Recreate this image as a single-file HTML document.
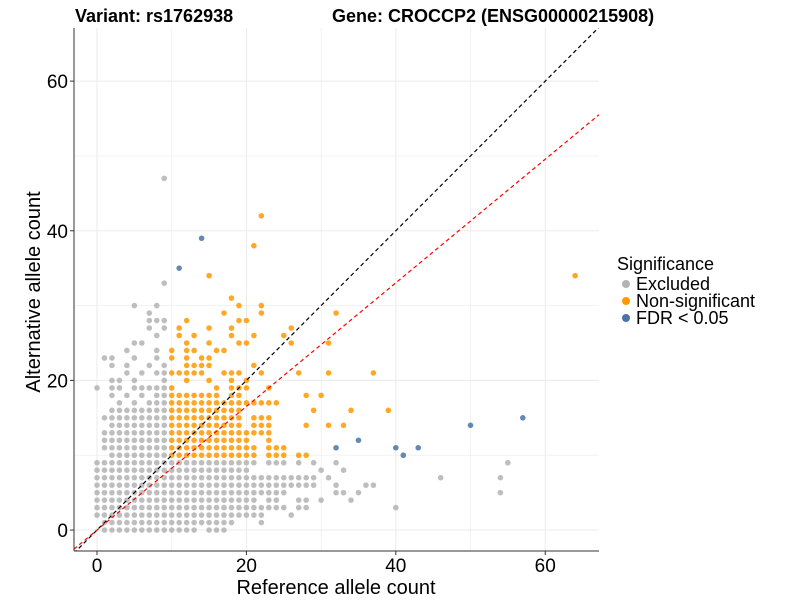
<!DOCTYPE html>
<html><head><meta charset="utf-8">
<style>
body{margin:0;background:#fff;}
svg{font-family:"Liberation Sans",Arial,sans-serif;}
</style></head>
<body>
<svg id="chart" width="800" height="600">
  <text x="75" y="22" font-size="18" font-weight="bold">Variant: rs1762938</text>
  <text x="332" y="22" font-size="18" font-weight="bold">Gene: CROCCP2 (ENSG00000215908)</text>
  <g id="grid"></g>
  <g id="refs"></g>
  <g id="pts"></g>
  <g id="axes"></g>
  <text x="336" y="594" text-anchor="middle" font-size="20">Reference allele count</text>
  <text transform="translate(40,292) rotate(-90)" text-anchor="middle" font-size="20">Alternative allele count</text>
  <g>
    <text x="617" y="270" font-size="18">Significance</text>
    <g><circle cx="626" cy="284" r="4" fill="#b3b3b3"/><text x="636" y="290" font-size="18">Excluded</text></g>
    <g><circle cx="626" cy="301" r="4" fill="#ff9900"/><text x="636" y="307" font-size="18">Non-significant</text></g>
    <g><circle cx="626" cy="318" r="4" fill="#4a74a8"/><text x="636" y="324" font-size="18">FDR &lt; 0.05</text></g>
  </g>
</svg>
<script>
const xTicks=[0,20,40,60];
const yTicks=[0,20,40,60];
const excludedRows=[[0,"1-13,15-17"],[1,"1-18,22"],[2,"0-22,26"],[3,"0-25,27,28,40"],[4,"0-21,23,24,27,28,30,34"],[5,"0-25,32,33,35,54"],[6,"0-29,32,36,37"],[7,"0-29,31,46,54"],[8,"0-20,30,33"],[9,"0-21,23-25,27,29,32,55"],[10,"2-9"],[11,"1-9"],[12,"1-9"],[13,"1-9"],[14,"2-9"],[15,"1-9"],[16,"2-9"],[17,"3,5,7,8,9"],[18,"2,4,6,8,9"],[19,"0,2,3,5-9"],[20,"2,3,5,9"],[21,"4,6,8,9"],[22,"2,4,7,9"],[23,"1,2,5,8"],[24,"4,8"],[25,"5,6"],[26,"8"],[27,"7,9"],[28,"7,8,9"],[29,"7"],[30,"5,8"],[33,"9"],[47,"9"]];
const nonsigRows=[[10,"10-21,23-25,27,28"],[11,"10-21,23-25"],[12,"10-20,23"],[13,"10-23"],[14,"10-19,21-23,28,31,33"],[15,"10-19,21-23"],[16,"10-19,29,34,39"],[17,"10-24"],[18,"10-16,18,19,28,30"],[19,"10,16,18-20,23"],[20,"12,15,18,20"],[21,"10-14,17,18,19,22,27,31,37"],[22,"12-15,21"],[23,"10,12,14,15"],[24,"10,12,13,16,17"],[25,"12,15,19,20,26,31"],[26,"11,13,18,21,25"],[27,"11,15,18,26"],[28,"12,19,20"],[29,"17,22,32"],[30,"19,22"],[31,"18"],[34,"15,64"],[38,"21"],[42,"22"]];
const fdrX=[14,11,32,35,40,41,43,50,57];
const fdrY=[39,35,11,12,11,10,11,14,15];

const X0=-3.08,X1=67.2,Y0=-2.8,Y1=67.1,L=74,R=599,T=28,B=551;
const sx=v=>L+(v-X0)/(X1-X0)*(R-L);
const sy=v=>B-(v-Y0)/(Y1-Y0)*(B-T);
const NS="http://www.w3.org/2000/svg";
function mk(tag,attrs,parent){const e=document.createElementNS(NS,tag);for(const k in attrs)e.setAttribute(k,attrs[k]);parent.appendChild(e);return e;}
function expand(s){const out=[];s.split(",").forEach(p=>{if(p.includes("-")){const [a,b]=p.split("-").map(Number);for(let i=a;i<=b;i++)out.push(i);}else out.push(Number(p));});return out;}

const grid=document.getElementById("grid");
[0,10,20,30,40,50,60].forEach(v=>{
  const l=mk("line",{x1:sx(v),x2:sx(v),y1:T,y2:B,stroke:"#ebebeb","stroke-width":v%20?0.6:1},grid);
  
  
  const h=mk("line",{x1:L,x2:R,y1:sy(v),y2:sy(v),stroke:"#ebebeb","stroke-width":v%20?0.6:1},grid);
  
  
});

const pts=document.getElementById("pts");
function dot(x,y,fill,name){
  const c=mk("circle",{cx:sx(x),cy:sy(y),r:2.8,fill:fill,"fill-opacity":0.85},pts);
  
  
}
excludedRows.forEach(([y,s])=>expand(s).forEach(x=>dot(x,y,"#b3b3b3","point-excluded")));
nonsigRows.forEach(([y,s])=>expand(s).forEach(x=>dot(x,y,"#ff9900","point-non-significant")));
fdrX.forEach((x,i)=>dot(x,fdrY[i],"#4a74a8","point-fdr"));

const refs=document.getElementById("refs");
const cp=mk("clipPath",{id:"cp"},refs);mk("rect",{x:L,y:T,width:R-L,height:B-T},cp);
const l1=mk("line",{x1:sx(-3.1),y1:sy(-3.1),x2:sx(70),y2:sy(70),stroke:"#000","stroke-width":1.2,"stroke-dasharray":"4,3","clip-path":"url(#cp)"},refs);


const l2=mk("line",{x1:sx(-3.1),y1:sy(-3.1*0.826),x2:sx(67.2),y2:sy(67.2*0.826),stroke:"#ff0000","stroke-width":1.2,"stroke-dasharray":"4,3","clip-path":"url(#cp)"},refs);


document.getElementById("chart").appendChild(refs);

const axes=document.getElementById("axes");
mk("line",{x1:L,x2:L,y1:T,y2:B,stroke:"#333","stroke-width":1},axes);
mk("line",{x1:L,x2:R,y1:B,y2:B,stroke:"#333","stroke-width":1},axes);
xTicks.forEach(v=>{
  mk("line",{x1:sx(v),x2:sx(v),y1:B,y2:B+4,stroke:"#333"},axes);
  const t=mk("text",{x:sx(v),y:B+21,"text-anchor":"middle","font-size":19,fill:"#000"},axes);t.textContent=v;
  
  
});
yTicks.forEach(v=>{
  mk("line",{x1:L-4,x2:L,y1:sy(v),y2:sy(v),stroke:"#333"},axes);
  const t=mk("text",{x:L-6,y:sy(v)+7,"text-anchor":"end","font-size":19,fill:"#000"},axes);t.textContent=v;
  
  
});
</script>
</body></html>
